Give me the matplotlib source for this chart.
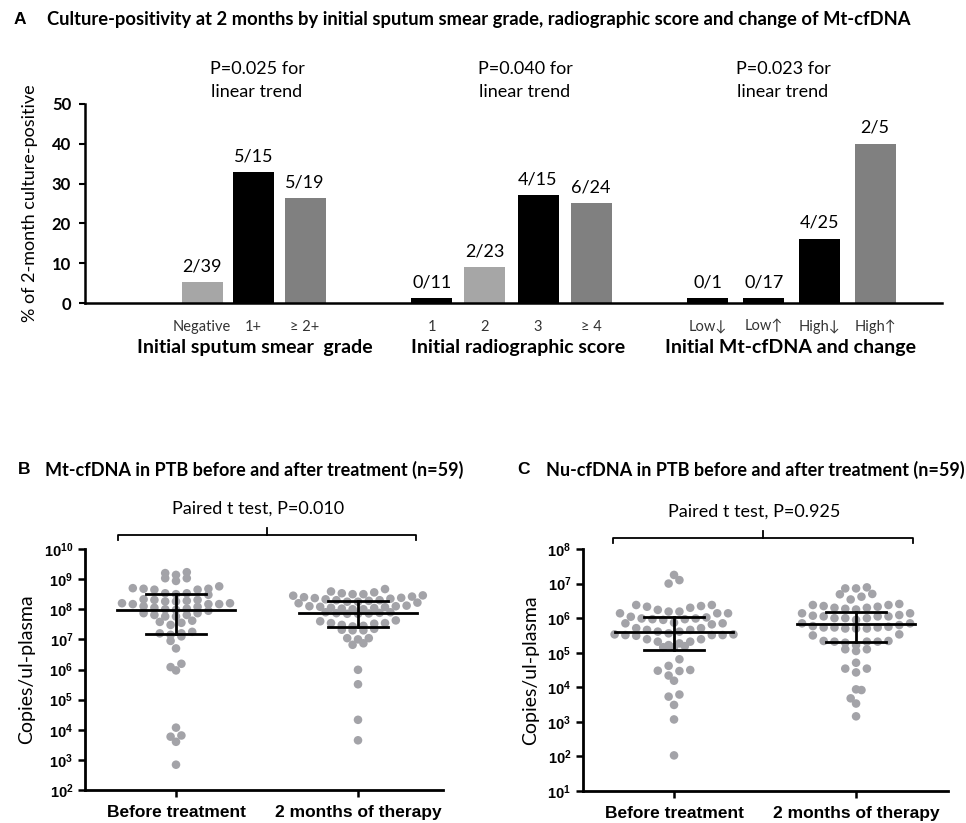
import numpy as np
import matplotlib
matplotlib.use("Agg")
import matplotlib.pyplot as plt
import matplotlib.transforms as mtransforms
from matplotlib.ticker import FixedLocator, NullLocator

plt.rcParams['font.family'] = ['Lato', 'DejaVu Sans']
plt.rcParams['mathtext.fontset'] = 'custom'
plt.rcParams['mathtext.bf'] = 'Liberation Sans:bold'
plt.rcParams['mathtext.rm'] = 'Liberation Sans'

# ---- panel A data (percent culture-positive, fractions)
smear_cats = ["Negative", "1+", "≥ 2+"]
smear_pct = [5.2, 32.9, 26.3]
smear_frac = ["2/39", "5/15", "5/19"]

radio_cats = ["1", "2", "3", "≥ 4"]
radio_pct = [1.2, 9.0, 27.1, 25.1]
radio_frac = ["0/11", "2/23", "4/15", "6/24"]

mt_cats = ["Low↓", "Low↑", "High↓", "High↑"]
mt_pct = [1.2, 1.2, 16.1, 40.0]
mt_frac = ["0/1", "0/17", "4/25", "2/5"]

group_names = ["Initial sputum smear  grade", "Initial radiographic score",
               "Initial Mt-cfDNA and change"]
trend_p = ["P=0.025", "P=0.040", "P=0.023"]

# ---- panel B: log10 Mt-cfDNA copies/ul-plasma
mt_before = [9.23, 9.14, 9.03, 9.03, 9.20, 8.94,
             8.76, 8.68, 8.65, 8.65, 8.68, 8.70,
             8.53, 8.48, 8.50, 8.53,
             8.20, 8.17, 8.31, 8.28, 8.26, 8.26, 8.31, 8.33, 8.17, 8.17, 8.20,
             8.05, 8.00, 7.98, 8.02, 8.08, 7.95, 8.10,
             7.81, 7.87, 7.81, 7.87, 7.76, 7.76,
             7.55, 7.62, 7.48, 7.58,
             7.20, 7.10, 7.15, 7.25, 7.20, 6.95, 6.70,
             6.08, 5.97, 6.19,
             4.07, 3.77, 3.81, 3.60, 2.84]
mt_after = [8.67, 8.59, 8.56, 8.53, 8.50, 8.50, 8.46, 8.45,
            8.42, 8.40, 8.37, 8.33, 8.30, 8.28, 8.25, 8.22, 8.20, 8.25, 8.30, 8.35, 8.38,
            8.10, 8.05, 8.02, 8.00, 8.07, 8.12, 8.04, 8.00, 8.08, 8.10,
            7.88, 7.87, 7.85, 7.90, 7.86, 7.85, 7.90,
            7.63, 7.54, 7.48, 7.45, 7.52, 7.54, 7.60, 7.43,
            7.35, 7.32, 7.30, 7.30,
            7.04, 7.00, 7.04,
            6.82, 6.87,
            5.99, 5.51, 4.33, 3.65]
mt_summary = {"before": (7.98, 7.19, 8.52), "after": (7.87, 7.42, 8.29)}

# ---- panel C: log10 Nu-cfDNA copies/ul-plasma
nu_before = [7.25, 7.10, 7.00,
             6.38, 6.35, 6.30, 6.19, 6.14, 6.14, 6.38, 6.14, 6.19, 6.24, 6.33,
             6.02, 5.99, 5.97, 5.85, 5.82, 5.85, 5.87, 5.95, 5.97, 5.99, 6.04,
             5.71, 5.66, 5.61, 5.56, 5.53, 5.51, 5.51, 5.49, 5.51, 5.53, 5.61, 5.66, 5.71,
             5.39, 5.32, 5.27, 5.19, 5.16, 5.16, 5.22, 5.32, 5.39,
             4.81, 4.62, 4.47, 4.34, 4.48, 4.50, 4.19,
             3.79, 3.73, 3.49, 3.07, 2.03]
nu_after = [6.86, 6.89, 6.86, 6.69, 6.54, 6.62, 6.70,
            6.38, 6.35, 6.30, 6.25, 6.27, 6.30, 6.33, 6.38, 6.41,
            6.14, 6.07, 6.05, 6.00, 6.00, 5.95, 6.00, 6.05, 6.05, 6.09, 6.14,
            5.77, 5.73, 5.70, 5.73, 5.85, 5.85, 5.70, 5.70, 5.73, 5.75, 5.80,
            5.53, 5.50,
            5.32, 5.32, 5.29, 5.10, 5.05, 5.10, 5.22, 5.32, 5.34, 5.34,
            4.71, 4.54, 4.43, 4.54,
            3.92, 3.94, 3.68, 3.53, 3.16]
nu_summary = {"before": (5.61, 5.09, 6.04), "after": (5.83, 5.32, 6.19)}

time_labels = ["Before treatment", "2 months of therapy"]

W, H = 966, 823
fig = plt.figure(figsize=(W / 100, H / 100), dpi=100)


def rect(l, t, r, b):
    return [l / W, 1 - b / H, (r - l) / W, (b - t) / H]


def row_swarm(vals, top, size, sp):
    # GraphPad-like scatter: bin values into rows, spread each row
    # from the centre outwards (lowest value in the middle)
    vals = np.asarray(vals)
    bins = np.floor((top - vals) / size + 1e-9).astype(int)
    xs = np.zeros(len(vals))
    for b in np.unique(bins):
        idx = np.where(bins == b)[0]
        idx = idx[np.argsort(vals[idx])]
        n = len(idx)
        slots = (np.arange(n) - (n - 1) / 2.0) * sp
        slots = slots[np.argsort(np.abs(slots) + 1e-3 * slots, kind="stable")]
        xs[idx] = slots
    return xs


# ================= panel A
axA = fig.add_axes(rect(85, 104, 942, 303))
starts = [117, 347, 623]
steps = [51.5, 53, 55.7]
groups = [(smear_cats, smear_pct, smear_frac, ["#a6a6a6", "black", "#808080"]),
          (radio_cats, radio_pct, radio_frac, ["black", "#a6a6a6", "black", "#808080"]),
          (mt_cats, mt_pct, mt_frac, ["black", "black", "black", "#808080"])]
ticks, ticklabels = [], []
for (cats, pct, frac, cols), s0, st in zip(groups, starts, steps):
    xpos = s0 + st * np.arange(len(cats))
    axA.bar(xpos, pct, width=41, color=cols, zorder=2)
    for x, v, f in zip(xpos, pct, frac):
        axA.text(x, v + 2, f, ha="center", va="bottom", fontsize=13)
    ticks += list(xpos)
    ticklabels += cats

axA.set_xlim(0, 857)
axA.set_ylim(0, 50)
axA.set_yticks([0, 10, 20, 30, 40, 50])
axA.set_yticklabels(["0", "10", "20", "30", "40", "50"], fontweight="bold", fontsize=12)
axA.set_xticks(ticks)
axA.set_xticklabels(ticklabels, fontsize=10.5, color="#333333")
axA.tick_params(axis="x", length=0, pad=12)
axA.tick_params(axis="y", length=4, width=1.5, direction="out", pad=6)
for sp in ["top", "right"]:
    axA.spines[sp].set_visible(False)
axA.spines["left"].set_linewidth(1.8)
axA.spines["bottom"].set_linewidth(1.8)
axA.set_ylabel("% of 2-month culture-positive", fontsize=13, labelpad=10)
blendA = mtransforms.blended_transform_factory(axA.transData, axA.transAxes)
gx = [170, 433, 706]
for x, g in zip(gx, group_names):
    axA.text(x, -0.222, g, transform=blendA, ha="center", va="center",
             fontsize=14, fontweight="bold")
px = [172, 440, 698]
for x, p in zip(px, trend_p):
    axA.text(x, 1.118, p + " for\nlinear trend", transform=blendA, ha="center",
             va="center", fontsize=13, linespacing=1.6)

fig.text(14 / W, 1 - 20 / H, "A", fontsize=12.5, fontweight="bold",
         family="Liberation Sans", va="center")
fig.text(47 / W, 1 - 20 / H,
         "Culture-positivity at 2 months by initial sputum smear grade, radiographic score and change of Mt-cfDNA",
         fontsize=13.2, fontweight="bold", va="center")


# ================= panels B and C
def dot_panel(ax, before, after, summ, ylo, yhi, top, size, ptxt, br):
    for k, vals in enumerate([before, after]):
        xs = row_swarm(vals, top, size, 10.8) / 182.0
        ax.scatter(k + xs, 10 ** np.asarray(vals), s=38, color="#a3a3a8",
                   edgecolors="none", zorder=2)
    for k, key in enumerate(["before", "after"]):
        c, lo, hi = summ[key]
        ax.plot([k - 0.325, k + 0.325], [10 ** c] * 2, color="black", lw=2, zorder=3)
        ax.plot([k - 0.167, k + 0.167], [10 ** lo] * 2, color="black", lw=2, zorder=3)
        ax.plot([k - 0.167, k + 0.167], [10 ** hi] * 2, color="black", lw=2, zorder=3)
        ax.plot([k, k], [10 ** lo, 10 ** hi], color="black", lw=2, zorder=3)
    ax.set_yscale("log")
    ax.set_ylim(10 ** ylo, 10 ** yhi)
    decs = np.arange(ylo, yhi + 1)
    ax.yaxis.set_major_locator(FixedLocator(10.0 ** decs))
    ax.yaxis.set_minor_locator(NullLocator())
    ax.set_yticklabels([r"$\mathbf{10^{%d}}$" % d for d in decs], fontsize=10.5)
    ax.set_xticks([0, 1])
    ax.set_xticklabels(time_labels, fontsize=12.5, fontweight="bold",
                       family="Liberation Sans")
    ax.tick_params(axis="both", length=5, width=1.8, direction="out")
    ax.tick_params(axis="x", pad=6)
    for sp in ["top", "right"]:
        ax.spines[sp].set_visible(False)
    ax.spines["left"].set_linewidth(2)
    ax.spines["bottom"].set_linewidth(2)
    ax.set_ylabel("Copies/ul-plasma", fontsize=14, labelpad=6)
    bl = mtransforms.blended_transform_factory(ax.transData, ax.transAxes)
    x0, x1, yb = br
    xm = (x0 + x1) / 2
    ax.plot([x0, x0, x1, x1], [yb - 0.022, yb, yb, yb - 0.022], color="black",
            lw=1.3, transform=bl, clip_on=False)
    ax.plot([xm, xm], [yb, yb + 0.03], color="black", lw=1.3, transform=bl,
            clip_on=False)
    ax.text(xm - 0.05, yb + 0.11, ptxt, transform=bl, ha="center", va="center",
            fontsize=13)


axB = fig.add_axes(rect(85, 549, 443, 790))
axB.set_xlim(-0.5, 1.467)
dot_panel(axB, mt_before, mt_after, mt_summary, 2, 10, 9.3, 0.27,
          "Paired t test, P=0.010", (-0.319, 1.319, 1.058))

axC = fig.add_axes(rect(583, 549, 948, 791))
axC.set_xlim(-0.5, 1.505)
dot_panel(axC, nu_before, nu_after, nu_summary, 1, 8, 7.45, 0.32,
          "Paired t test, P=0.925", (-0.335, 1.313, 1.045))

fig.text(18 / W, 1 - 470 / H, "B", fontsize=12.5, fontweight="bold",
         family="Liberation Sans", va="center")
fig.text(45 / W, 1 - 470 / H, "Mt-cfDNA in PTB before and after treatment (n=59)",
         fontsize=13, fontweight="bold", va="center")
fig.text(517 / W, 1 - 470 / H, "C", fontsize=12.5, fontweight="bold",
         family="Liberation Sans", va="center")
fig.text(546 / W, 1 - 470 / H, "Nu-cfDNA in PTB before and after treatment (n=59)",
         fontsize=13, fontweight="bold", va="center")

fig.savefig("out.png", dpi=100)
